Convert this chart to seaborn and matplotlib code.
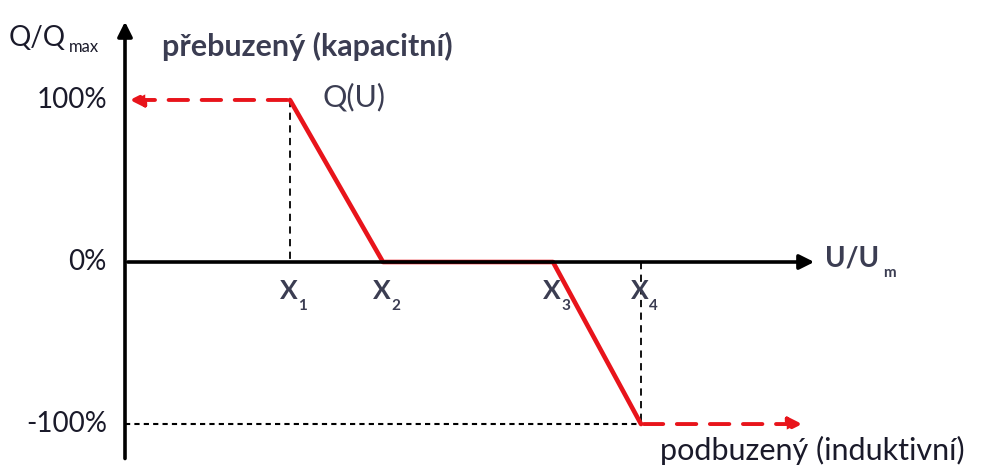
import matplotlib
matplotlib.use("Agg")
import matplotlib.pyplot as plt
import seaborn as sns
import pandas as pd

# Q(U) characteristic, x in arbitrary voltage units, y in % of Qmax
x_points = [1.65, 2.58, 4.28, 5.16]
q_points = [100, 0, 0, -100]
x_labels = ["X", "X", "X", "X"]
x_subs = ["1", "2", "3", "4"]
y_ticks = [100, 0, -100]
y_tick_labels = ["100%", "0%", "-100%"]

RED = "#e8141b"
TXT = "#3b3d52"
DARK = "#1a1a2a"

sns.set_theme(style="white")
plt.rcParams["font.family"] = ["Lato", "DejaVu Sans"]

fig = plt.figure(figsize=(9.81, 4.66), dpi=100)
ax = fig.add_axes([0, 0, 1, 1])
ax.set_xlim(-1.25, 8.56)
ax.set_ylim(-125.9, 161.7)
ax.axis("off")

df = pd.DataFrame({"U": x_points, "Q": q_points})

# helper dashed lines (black)
ax.plot([x_points[0], x_points[0]], [q_points[0], 0], color="black", lw=1.3, ls=(0, (4, 3)))
ax.plot([x_points[3], x_points[3]], [0, q_points[3]], color="black", lw=1.3, ls=(0, (4, 3)))
ax.plot([0, x_points[3]], [q_points[3], q_points[3]], color="black", lw=1.5, ls=(0, (2.5, 2)))

# axes with arrows
ax.annotate("", xy=(6.92, 0), xytext=(0, 0),
            arrowprops=dict(arrowstyle="-|>", color="black", lw=2.6, mutation_scale=22))
ax.annotate("", xy=(0, 150), xytext=(0, -123),
            arrowprops=dict(arrowstyle="-|>", color="black", lw=2.6, mutation_scale=22))

# red dashed limit arrows
ax.annotate("", xy=(0.02, 100), xytext=(x_points[0], 100),
            arrowprops=dict(arrowstyle="-|>", color=RED, lw=2.8, ls=(0, (5, 3.5)), mutation_scale=20))
ax.annotate("", xy=(6.8, -100), xytext=(x_points[3], -100),
            arrowprops=dict(arrowstyle="-|>", color=RED, lw=2.8, ls=(0, (5, 3.5)), mutation_scale=20))

# Q(U) curve
sns.lineplot(data=df, x="U", y="Q", color=RED, lw=3.3, ax=ax, sort=False)

# tick labels
for v, lab in zip(y_ticks, y_tick_labels):
    ax.text(-0.18, v, lab, ha="right", va="center", fontsize=20, color=DARK)

for xv, lab, sub in zip(x_points, x_labels, x_subs):
    ax.text(xv - 0.1, -18, lab, ha="left", va="center", fontsize=19,
            fontweight="bold", color=TXT)
    ax.text(xv + 0.08, -27, sub, ha="left", va="center", fontsize=11,
            fontweight="bold", color=TXT)

# axis titles
ax.text(-1.16, 138, "Q/Q", ha="left", va="center", fontsize=20, color=DARK)
ax.text(-0.56, 133, "max", ha="left", va="center", fontsize=12, color=DARK)
ax.text(7.0, 2, "U/U", ha="left", va="center", fontsize=20, fontweight="bold", color=TXT)
ax.text(7.58, -7, "m", ha="left", va="center", fontsize=11, fontweight="bold", color=TXT)

# annotations
ax.text(0.37, 133, "přebuzený (kapacitní)", ha="left", va="center", fontsize=22,
        fontweight="bold", color=TXT)
ax.text(1.97, 102, "Q(U)", ha="left", va="center", fontsize=22, color=TXT)
ax.text(5.35, -116, "podbuzený (induktivní)", ha="left", va="center", fontsize=22,
        color=DARK)

fig.savefig("out.png", dpi=100)
